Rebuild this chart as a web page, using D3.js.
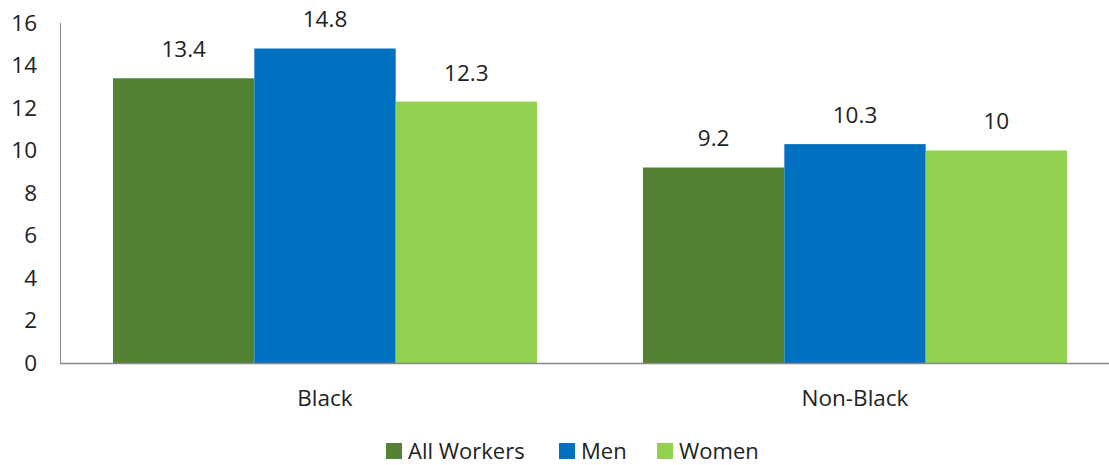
<!DOCTYPE html>
<html><head><meta charset="utf-8">
<script src="https://cdn.jsdelivr.net/npm/d3@7"></script>
<style>body{margin:0;background:#fff;}svg{display:block;font-family:"Open Sans",Lato,sans-serif;}</style>
</head><body><svg id="c" width="1109" height="465"></svg>
<script>
const categories = ["Black", "Non-Black"];
const seriesNames = ["All Workers", "Men", "Women"];
const allWorkers = [13.4, 9.2];
const men = [14.8, 10.3];
const women = [12.3, 10];
const yTicks = [0, 2, 4, 6, 8, 10, 12, 14, 16];
const colors = ["#548235", "#0070C0", "#92D050"];

const series = [allWorkers, men, women];
const FS = 22.5;
const svg = d3.select("#c");
const x0 = d3.scaleBand().domain(categories).range([60, 1120]).paddingInner(0.2).paddingOuter(0.1);
const x1 = d3.scaleBand().domain(seriesNames).range([0, x0.bandwidth()]);
const y = d3.scaleLinear().domain([0, 16]).range([363, 23]);

// y axis
svg.append("line").attr("x1", 60.5).attr("x2", 60.5).attr("y1", y(16)).attr("y2", y(0)).attr("stroke", "#888").attr("stroke-width", 1);
svg.append("g").selectAll("text").data(yTicks).join("text")
  .attr("x", 37).attr("y", d => y(d)).attr("dy", "0.35em").attr("text-anchor", "end")
  .attr("font-size", FS).attr("fill", "#222").text(d => d);

// bars
categories.forEach((c, ci) => {
  const g = svg.append("g").attr("transform", `translate(${x0(c)},0)`);
  seriesNames.forEach((s, si) => {
    const v = series[si][ci];
    g.append("rect").attr("x", x1(s)).attr("width", x1.bandwidth())
      .attr("y", y(v)).attr("height", y(0) - y(v)).attr("fill", colors[si]);
    g.append("text").attr("x", x1(s) + x1.bandwidth() / 2).attr("y", y(v) - 29)
      .attr("dy", "0.35em").attr("text-anchor", "middle").attr("font-size", FS).attr("fill", "#222").text(v);
  });
  svg.append("text").attr("x", x0(c) + x0.bandwidth() / 2).attr("y", 398)
    .attr("dy", "0.35em").attr("text-anchor", "middle").attr("font-size", FS).attr("fill", "#222").text(c);
});

// x axis
svg.append("line").attr("x1", 60).attr("x2", 1109).attr("y1", 363.5).attr("y2", 363.5).attr("stroke", "#888").attr("stroke-width", 1.5);

// legend
const legendX = [386, 559, 657];
const lg = svg.append("g").selectAll("g").data(seriesNames).join("g")
  .attr("transform", (d, i) => `translate(${legendX[i]},443)`);
lg.append("rect").attr("width", 16).attr("height", 16).attr("fill", (d, i) => colors[i]);
lg.append("text").attr("x", 22).attr("y", 8).attr("dy", "0.35em").attr("font-size", 22).attr("fill", "#222").text(d => d);
</script></body></html>
